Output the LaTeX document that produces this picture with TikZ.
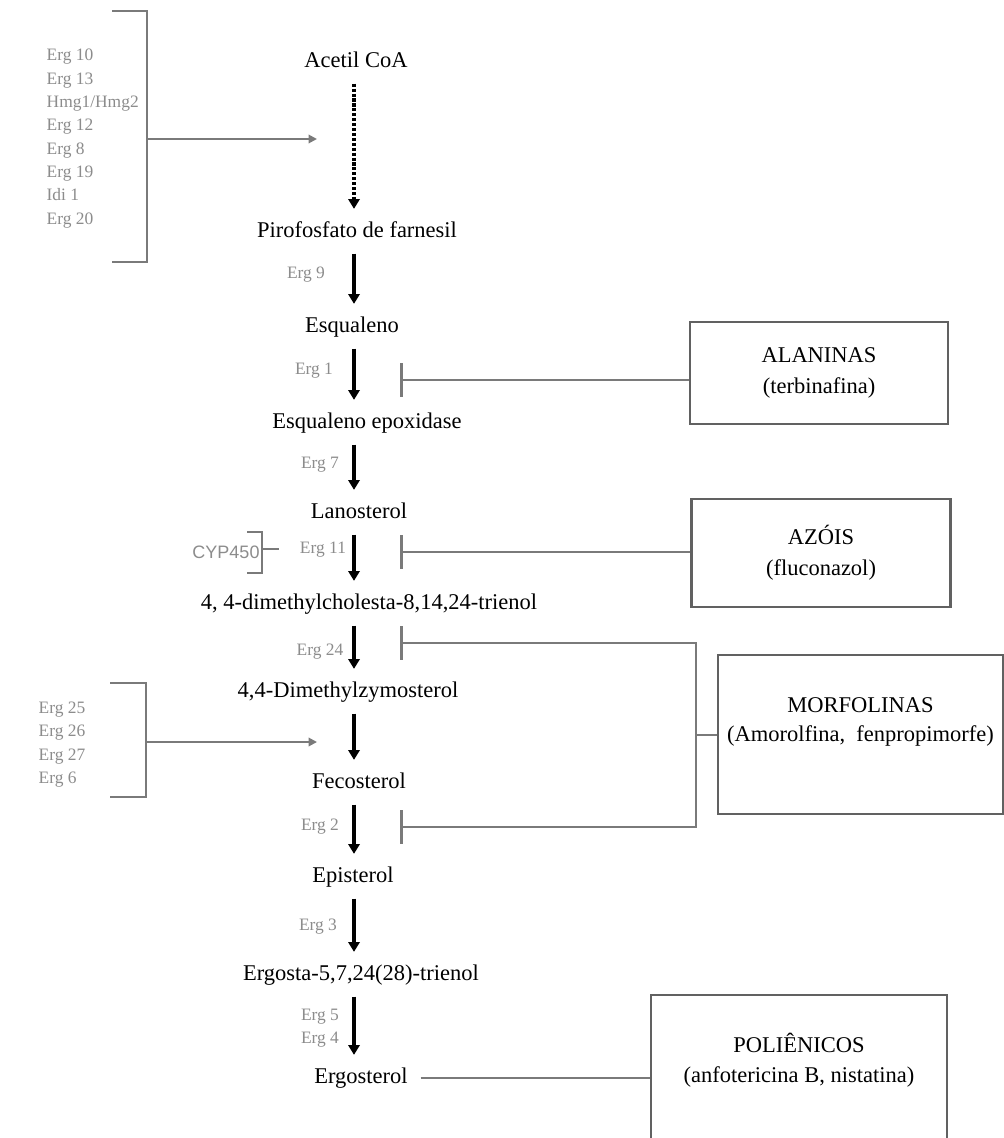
\documentclass[tikz,border=0pt]{standalone}
\usepackage{fontspec}
\setmainfont{Liberation Serif}
\newfontfamily\cypfont{Liberation Sans}
\usepackage{tikz}
\usetikzlibrary{arrows.meta,calc}
\definecolor{lnk}{gray}{0.48}
\definecolor{enzc}{gray}{0.55}
\definecolor{boxc}{gray}{0.38}

\begin{document}
\begin{tikzpicture}[x=0.025cm, y=-0.025cm,
    metab/.style={font=\fontsize{16}{19}\selectfont, inner sep=2pt, text height=11pt, text depth=3.5pt},
    enz/.style={font=\fontsize{12.4}{16.6}\selectfont, text=enzc, inner sep=1pt, align=left},
    drug/.style={draw=boxc, line width=2pt, fill=white, align=center, inner sep=0pt, font=\fontsize{16}{22}\selectfont},
    rx/.style={line width=2.6pt, -{Triangle[width=8pt,length=7pt]}, shorten <=6pt, shorten >=7pt},
    lnkline/.style={draw=lnk, line width=1.4pt},
    tobar/.style={lnkline, -{Bar[width=24pt,line width=2pt]}},
    barbar/.style={lnkline, {Bar[width=24pt,line width=2pt]}-{Bar[width=24pt,line width=2pt]}},
    feed/.style={lnkline, -{Triangle[width=6pt,length=6pt]}}]
  \useasboundingbox (0,0) rectangle (1004,1138);
  \coordinate (ax) at (354,0);

  % pathway
  \node[metab] (aco) at (356,62) {Acetil CoA};
  \node[metab] (pir) at (357,232) {Pirofosfato de farnesil};
  \node[metab] (esq) at (352,327) {Esqualeno};
  \node[metab] (epo) at (367,423) {Esqualeno epoxidase};
  \node[metab] (lan) at (359,513) {Lanosterol};
  \node[metab] (dmc) at (369,604) {4, 4-dimethylcholesta-8,14,24-trienol};
  \node[metab] (dmz) at (348,692) {4,4-Dimethylzymosterol};
  \node[metab] (fec) at (359,783) {Fecosterol};
  \node[metab] (epi) at (353,877) {Episterol};
  \node[metab] (egt) at (361,975) {Ergosta-5,7,24(28)-trienol};
  \node[metab] (ergo) at (361,1078) {Ergosterol};

  \draw[rx, dash pattern=on 2.2pt off 1.3pt] (aco.south -| ax) -- (pir.north -| ax);
  \draw[rx] (pir.south -| ax) -- (esq.north -| ax);
  \draw[rx] (esq.south -| ax) -- (epo.north -| ax);
  \draw[rx] (epo.south -| ax) -- (lan.north -| ax);
  \draw[rx] (lan.south -| ax) -- (dmc.north -| ax);
  \draw[rx] (dmc.south -| ax) -- (dmz.north -| ax);
  \draw[rx] (dmz.south -| ax) -- (fec.north -| ax);
  \draw[rx] (fec.south -| ax) -- (epi.north -| ax);
  \draw[rx] (epi.south -| ax) -- (egt.north -| ax);
  \draw[rx] (egt.south -| ax) -- (ergo.north -| ax);

  % enzymes
  \node[enz] (e9) at (306,275) {Erg 9};
  \node[enz] (e1) at (314,371) {Erg 1};
  \node[enz] (e7) at (320,465) {Erg 7};
  \node[enz] (e11) at (323,550) {Erg 11};
  \node[enz] (e24) at (320,652) {Erg 24};
  \node[enz] (e2) at (320,827) {Erg 2};
  \node[enz] (e3) at (318,927) {Erg 3};
  \node[enz] (e54) at (320,1028) {Erg 5\\Erg 4};

  \node[enz, anchor=west] (lst1) at (45,138.5) {Erg 10\\Erg 13\\Hmg1/Hmg2\\Erg 12\\Erg 8\\Erg 19\\Idi 1\\Erg 20};
  \draw[lnkline] (112,11) -- (147,11) -- (147,262) -- (112,262);
  \coordinate (b1) at (147,139);
  \coordinate (t1) at (317,139);
  \draw[feed] (b1) -- (t1);

  \node[enz, anchor=west] (lst2) at (37,744.5) {Erg 25\\Erg 26\\Erg 27\\Erg 6};
  \draw[lnkline] (110,683) -- (146,683) -- (146,797) -- (110,797);
  \coordinate (b2) at (146,742);
  \coordinate (t2) at (317,742);
  \draw[feed] (b2) -- (t2);

  \node[font=\cypfont\fontsize{12.8}{15}\selectfont, text=enzc, inner sep=1pt] (cyp) at (226,552) {CYP450};
  \draw[lnkline] (247,532) -- (262,532) -- (262,573) -- (247,573);
  \coordinate (c1) at (262,549);
  \coordinate (c2) at (279,549);
  \draw[lnkline] (c1) -- (c2);

  % drugs
  \node[drug, minimum width=258*0.025cm, minimum height=102*0.025cm] (alan) at (819,373) {ALANINAS\\(terbinafina)};
  \node[drug, minimum width=259*0.025cm, minimum height=108*0.025cm] (azo) at (821,553) {AZÓIS\\(fluconazol)};
  \node[drug, minimum width=285*0.025cm, minimum height=159*0.025cm, font=\fontsize{16}{21}\selectfont] (mor) at (860.5,734.5) {MORFOLINAS\\(Amorolfina,\ \ fenpropimorfe)\\\mbox{}};
  \node[drug, minimum width=296*0.025cm, minimum height=155*0.025cm, font=\fontsize{16}{21}\selectfont] (pol) at (799,1072.5) {POLIÊNICOS\\(anfotericina B, nistatina)\\\mbox{}};

  \coordinate (ib1) at (400,380);
  \coordinate (ib2) at (400,552);
  \coordinate (ib3) at (400,643);
  \coordinate (ib4) at (400,827);
  \coordinate (mt) at (696,643);
  \coordinate (mb) at (696,827);
  \coordinate (mj) at (696,735);

  \draw[tobar] (ib1 -| alan.west) -- (ib1);
  \draw[tobar] (ib2 -| azo.west) -- (ib2);
  \draw[barbar] (ib3) -- (mt) -- (mb) -- (ib4);
  \draw[lnkline] (mj) -- (mj -| mor.west);
  \draw[lnkline, shorten <=7pt] (ergo.east) -- (ergo.east -| pol.west);
\end{tikzpicture}
\end{document}
